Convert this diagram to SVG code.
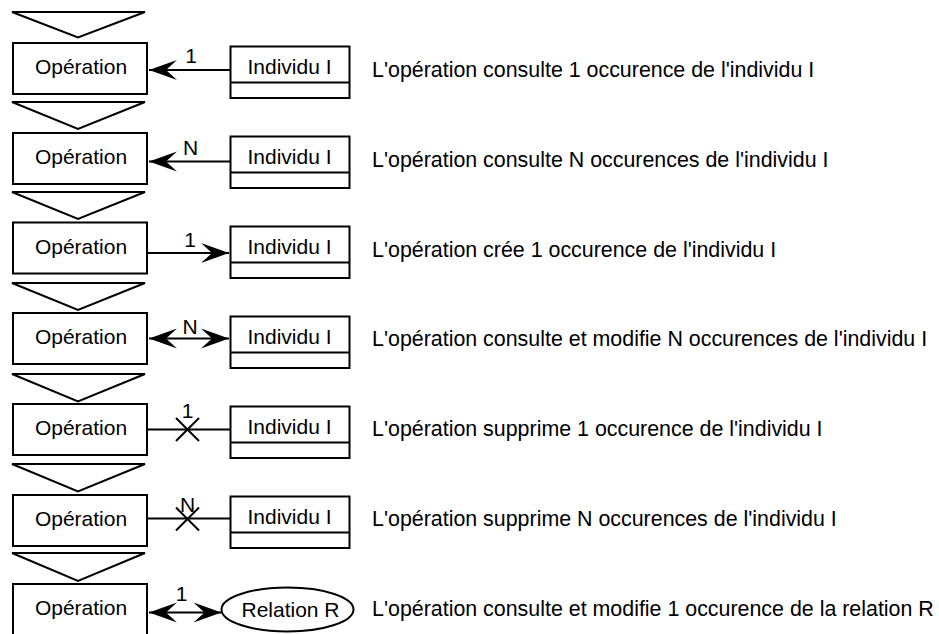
<svg xmlns="http://www.w3.org/2000/svg" width="939" height="634" viewBox="0 0 939 634">
<style>
  .shape { fill: #fff; stroke: #000; stroke-width: 2; }
  .line { fill: none; stroke: #000; stroke-width: 2; }
  .t { font-family: "Liberation Sans", Arial, sans-serif; font-size: 21px; fill: #000; }
  .d { font-size: 21.4px; }
  .c { text-anchor: middle; }
</style>
<defs>
  <marker id="arr" markerUnits="userSpaceOnUse" viewBox="-30 -12 32 24" markerWidth="32" markerHeight="24" refX="0" refY="0" orient="auto-start-reverse">
    <path d="M0,0 L-28,-10 L-17,0 L-28,10 Z" fill="#000"/>
  </marker>
</defs>
<rect width="939" height="634" fill="#fff"/>

<g id="triangles">
  <polygon class="shape" points="12,12 145,12 78,37.5"/>
  <polygon class="shape" points="12,102 145,102 78,129"/>
  <polygon class="shape" points="12,192 145,192 78,219"/>
  <polygon class="shape" points="12,283 145,283 78,310"/>
  <polygon class="shape" points="12,374 145,374 78,401.5"/>
  <polygon class="shape" points="12,464 145,464 78,491.5"/>
  <polygon class="shape" points="12,553 145,553 78,581"/>
</g>

<g id="op1"><rect class="shape" x="13" y="43" width="134" height="51"/><text class="t c" x="81" y="74">Opération</text></g>
<g id="op2"><rect class="shape" x="13" y="133" width="134" height="51"/><text class="t c" x="81" y="164">Opération</text></g>
<g id="op3"><rect class="shape" x="13" y="222.5" width="134" height="51"/><text class="t c" x="81" y="253.5">Opération</text></g>
<g id="op4"><rect class="shape" x="13" y="313" width="134" height="51"/><text class="t c" x="81" y="344">Opération</text></g>
<g id="op5"><rect class="shape" x="13" y="404" width="134" height="51"/><text class="t c" x="81" y="435">Opération</text></g>
<g id="op6"><rect class="shape" x="13" y="495" width="134" height="51"/><text class="t c" x="81" y="526">Opération</text></g>
<g id="op7"><rect class="shape" x="13" y="584" width="134" height="60"/><text class="t c" x="81" y="615">Opération</text></g>

<g id="ind1"><rect class="shape" x="230.5" y="46.5" width="119" height="51.5"/><line class="line" x1="230.5" y1="82.5" x2="349.5" y2="82.5"/><text class="t c" x="289.5" y="74">Individu I</text></g>
<g id="ind2"><rect class="shape" x="230.5" y="136.5" width="119" height="51.5"/><line class="line" x1="230.5" y1="172.5" x2="349.5" y2="172.5"/><text class="t c" x="289.5" y="164">Individu I</text></g>
<g id="ind3"><rect class="shape" x="230.5" y="226.5" width="119" height="51.5"/><line class="line" x1="230.5" y1="262.5" x2="349.5" y2="262.5"/><text class="t c" x="289.5" y="254">Individu I</text></g>
<g id="ind4"><rect class="shape" x="230.5" y="316.5" width="119" height="51.5"/><line class="line" x1="230.5" y1="352.5" x2="349.5" y2="352.5"/><text class="t c" x="289.5" y="344">Individu I</text></g>
<g id="ind5"><rect class="shape" x="230.5" y="406.5" width="119" height="51.5"/><line class="line" x1="230.5" y1="442.5" x2="349.5" y2="442.5"/><text class="t c" x="289.5" y="434">Individu I</text></g>
<g id="ind6"><rect class="shape" x="230.5" y="496.5" width="119" height="51.5"/><line class="line" x1="230.5" y1="532.5" x2="349.5" y2="532.5"/><text class="t c" x="289.5" y="524">Individu I</text></g>
<g id="rel7"><ellipse class="shape" cx="287.5" cy="609.5" rx="66" ry="22"/><text class="t c" x="290.5" y="617">Relation R</text></g>

<g id="connectors">
  <line class="line" x1="230" y1="70" x2="149" y2="70" marker-end="url(#arr)"/>
  <line class="line" x1="230" y1="161.5" x2="149" y2="161.5" marker-end="url(#arr)"/>
  <line class="line" x1="147" y1="253" x2="229" y2="253" marker-end="url(#arr)"/>
  <line class="line" x1="149" y1="338.5" x2="229" y2="338.5" marker-start="url(#arr)" marker-end="url(#arr)"/>
  <line class="line" x1="147" y1="429.5" x2="230" y2="429.5"/>
  <path class="line" d="M176,418 L199,441 M176,441 L199,418"/>
  <line class="line" x1="147" y1="518.5" x2="230" y2="518.5"/>
  <path class="line" d="M176,507.5 L199,530.5 M176,530.5 L199,507.5"/>
  <line class="line" x1="149" y1="612.5" x2="221.5" y2="612.5" marker-start="url(#arr)" marker-end="url(#arr)"/>
</g>

<g id="labels">
  <text class="t c" x="191" y="63">1</text>
  <text class="t c" x="190.5" y="155">N</text>
  <text class="t c" x="190" y="246.5">1</text>
  <text class="t c" x="190" y="333.5">N</text>
  <text class="t c" x="187.5" y="418">1</text>
  <text class="t c" x="187.5" y="511.5">N</text>
  <text class="t c" x="181.5" y="600.5">1</text>
</g>

<g id="descriptions">
  <text class="t d" x="372" y="77">L'opération consulte 1 occurence de l'individu I</text>
  <text class="t d" x="372" y="167">L'opération consulte N occurences de l'individu I</text>
  <text class="t d" x="372" y="256.5">L'opération crée 1 occurence de l'individu I</text>
  <text class="t d" x="372" y="345.5">L'opération consulte et modifie N occurences de l'individu I</text>
  <text class="t d" x="372" y="436">L'opération supprime 1 occurence de l'individu I</text>
  <text class="t d" x="372" y="526">L'opération supprime N occurences de l'individu I</text>
  <text class="t d" x="372" y="616">L'opération consulte et modifie 1 occurence de la relation R</text>
</g>
</svg>
